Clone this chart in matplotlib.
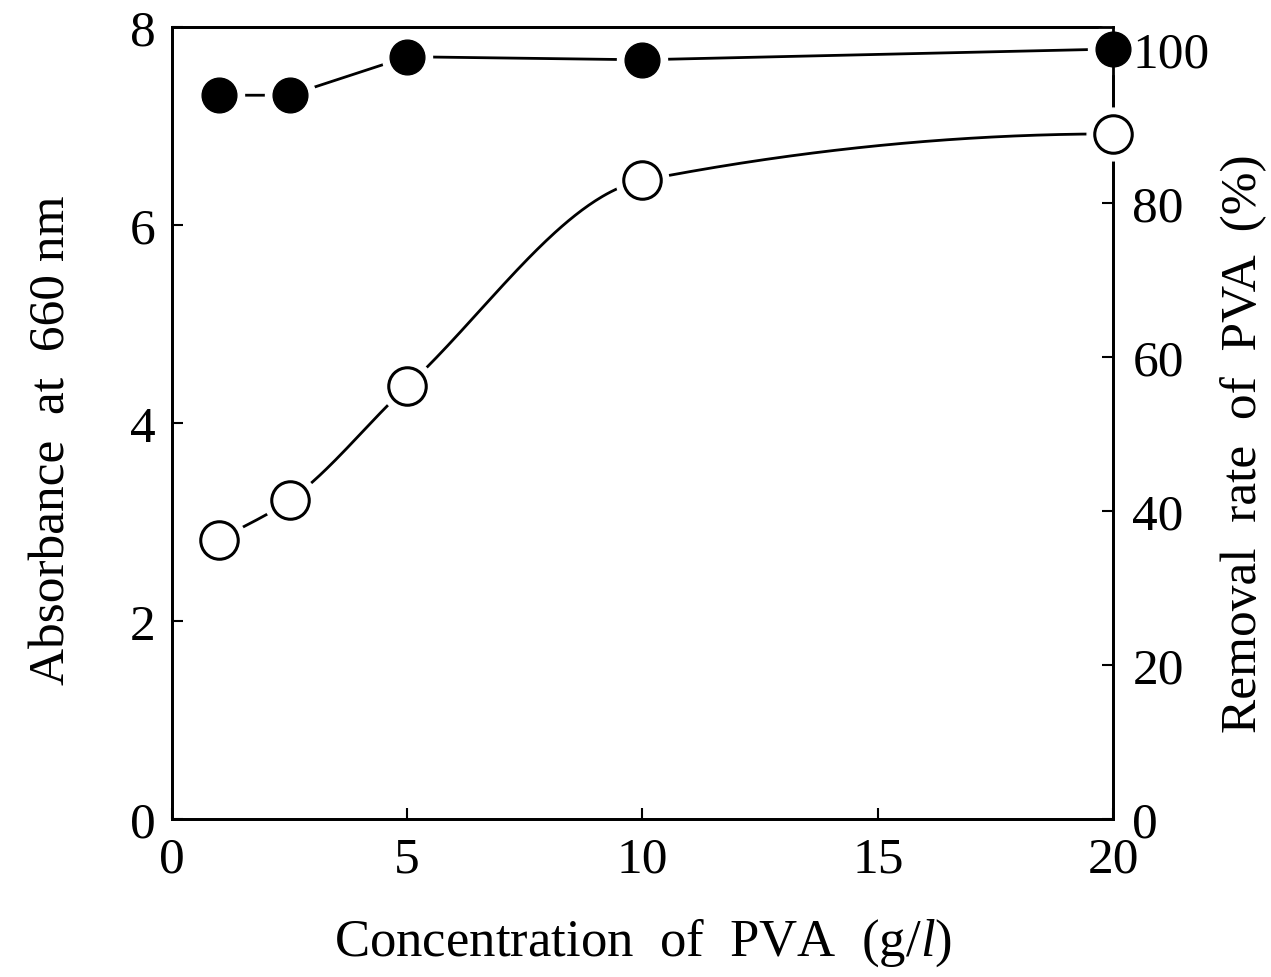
import matplotlib.pyplot as plt
import numpy as np


# data
conc = [1.0, 2.5, 5.0, 10.0, 20.0]              # g/l
absorbance = [2.82, 3.22, 4.37, 6.45, 6.92]     # open circles, left axis
removal = [94.0, 94.0, 99.0, 98.6, 100.0]       # filled circles, right axis

x_ticks = [0, 5, 10, 15, 20]
left_ticks = [0, 2, 4, 6, 8]
right_ticks = [0, 20, 40, 60, 80, 100]


# monotone cubic (PCHIP) through the measured points, for the smooth guide line
def pchip(x, y, xs):
    x = np.asarray(x, float)
    y = np.asarray(y, float)
    h = np.diff(x)
    d = np.diff(y) / h
    m = np.zeros_like(y)
    for k in range(1, len(x) - 1):
        if d[k - 1] * d[k] > 0:
            w1 = 2 * h[k] + h[k - 1]
            w2 = h[k] + 2 * h[k - 1]
            m[k] = (w1 + w2) / (w1 / d[k - 1] + w2 / d[k])
    m[0] = d[0]
    m[-1] = 0.0
    ys = np.empty_like(xs)
    for i, xv in enumerate(xs):
        k = min(np.searchsorted(x, xv) - 1, len(x) - 2)
        k = max(k, 0)
        t = (xv - x[k]) / h[k]
        h00 = 2 * t**3 - 3 * t**2 + 1
        h10 = t**3 - 2 * t**2 + t
        h01 = -2 * t**3 + 3 * t**2
        h11 = t**3 - t**2
        ys[i] = h00 * y[k] + h10 * h[k] * m[k] + h01 * y[k + 1] + h11 * h[k] * m[k + 1]
    return ys


plt.rcParams['font.family'] = ['Liberation Serif', 'DejaVu Serif']
plt.rcParams['mathtext.fontset'] = 'custom'
plt.rcParams['mathtext.rm'] = 'Liberation Serif'
plt.rcParams['mathtext.it'] = 'Liberation Serif:italic'

fig = plt.figure(figsize=(12.71, 9.78), dpi=100)
ax = fig.add_axes([0.1353, 0.1616, 0.7404, 0.8098])
ax2 = ax.twinx()

ax.set_xlim(0, 20)
ax.set_ylim(0, 8)
ax2.set_ylim(0, 100 * 790 / 768)

# open circles: absorbance, smooth line
xs = np.linspace(conc[0], conc[-1], 400)
ax.plot(xs, pchip(conc, absorbance, xs), color='black', lw=2, zorder=2)
ax.plot(conc, absorbance, 'o', ms=38, color='white', mec='white', zorder=3, clip_on=False)
ax.plot(conc, absorbance, 'o', ms=27, mfc='white', mec='black', mew=2.2, zorder=4, clip_on=False)

# filled circles: removal rate, straight segments
ax2.plot(conc, removal, color='black', lw=2, zorder=2)
ax2.plot(conc, removal, 'o', ms=36, color='white', mec='white', zorder=3, clip_on=False)
ax2.plot(conc, removal, 'o', ms=25, color='black', zorder=4, clip_on=False)

ax.set_xticks(x_ticks)
ax.set_yticks(left_ticks)
ax2.set_yticks(right_ticks)

ax.tick_params(axis='both', direction='in', length=8, width=1.5, labelsize=37, pad=12)
ax.tick_params(axis='x', pad=12)
ax2.tick_params(axis='y', direction='in', length=8, width=1.5, labelsize=37, pad=14)
for a in (ax, ax2):
    for s in a.spines.values():
        s.set_linewidth(2)
ax.set_zorder(ax2.get_zorder() + 1)
ax.patch.set_visible(False)

ax.set_xlabel('Concentration  of  PVA  (g/$l$)', fontsize=38, labelpad=24)
ax.set_ylabel('Absorbance  at  660 nm', fontsize=37)
ax2.set_ylabel('Removal  rate  of  PVA  (%)', fontsize=37)
ax.yaxis.set_label_coords(-0.103, 0.48)
ax2.yaxis.set_label_coords(1.114, 0.475)

fig.savefig('out.png', dpi=100)
